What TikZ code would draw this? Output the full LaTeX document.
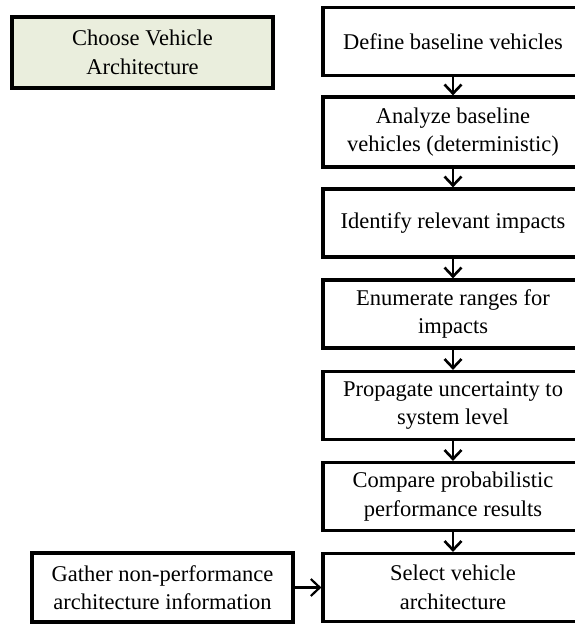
\documentclass[tikz,border=0pt]{standalone}
\usepackage{fontspec}
\setmainfont{Liberation Serif}
\usetikzlibrary{arrows.meta}
\definecolor{paleolive}{RGB}{234,238,221}
\begin{document}
\begin{tikzpicture}[x=1pt,y=-1pt,
  box/.style={draw=black, line width=3.2pt, fill=white, rectangle,
    minimum width=260pt, minimum height=68pt, inner sep=0pt,
    align=center, font=\fontsize{22.5}{28.5}\selectfont},
  flow/.style={line width=2.6pt, -{Straight Barb[length=9pt,width=17pt]}}]
\useasboundingbox (0,0) rectangle (575,624);
% phase title
\node[box, fill=paleolive, minimum width=261pt, minimum height=71pt] (phase) at (142.5,52.5) {Choose Vehicle\\Architecture};
% main sequence
\node[box] (s1) at (453,41.5) {Define baseline vehicles};
\node[box, minimum height=70pt] (s2) at (453,132) {Analyze baseline\\vehicles (deterministic)};
\node[box] (s3) at (453,223) {Identify relevant impacts};
\node[box] (s4) at (453,314) {Enumerate ranges for\\impacts};
\node[box] (s5) at (453,405.5) {Propagate uncertainty to\\system level};
\node[box] (s6) at (453,496.5) {Compare probabilistic\\performance results};
\node[box] (s7) at (453,587.5) {Select vehicle\\architecture};
% side input
\node[box, minimum width=261pt, minimum height=69pt] (g) at (162.5,587.5) {Gather non-performance\\architecture information};
\draw[flow] (s1) -- (s2);
\draw[flow] (s2) -- (s3);
\draw[flow] (s3) -- (s4);
\draw[flow] (s4) -- (s5);
\draw[flow] (s5) -- (s6);
\draw[flow] (s6) -- (s7);
\draw[flow, line width=2.2pt] (g) -- (s7);
\end{tikzpicture}
\end{document}
